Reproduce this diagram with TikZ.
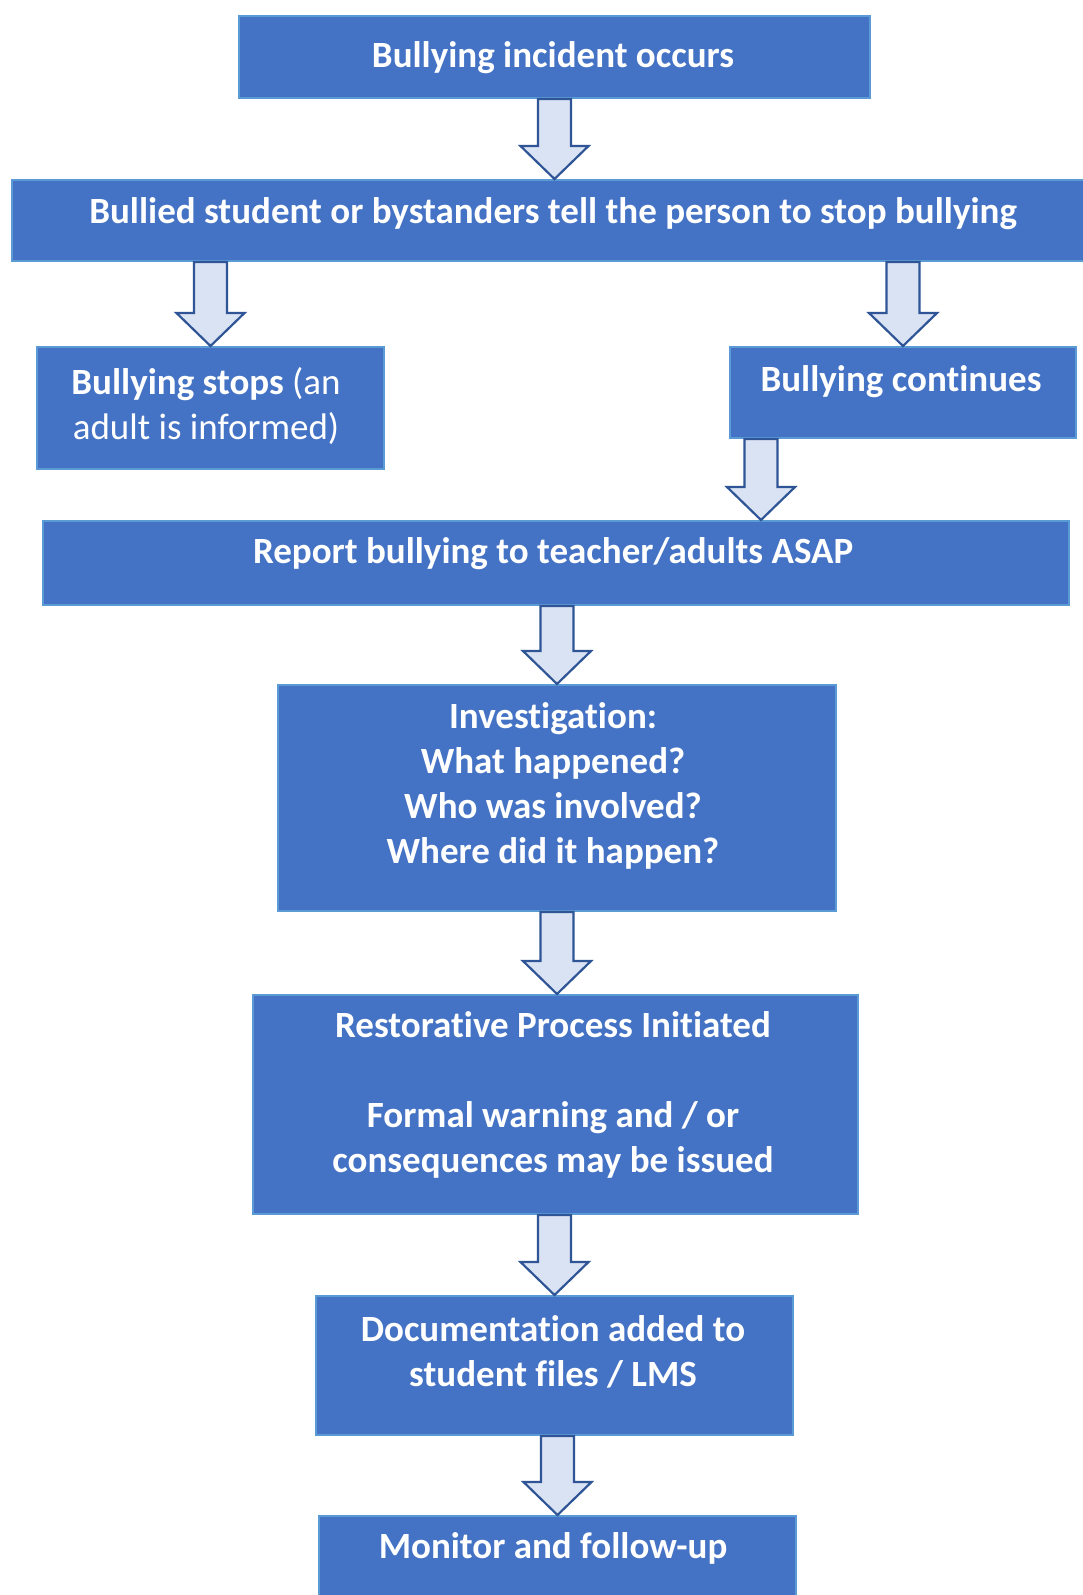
\documentclass[tikz,border=0pt]{standalone}
\usepackage{fontspec}
\setmainfont{Carlito}[Ligatures=NoCommon]
\usetikzlibrary{calc}
\definecolor{boxfill}{HTML}{4472C4}
\definecolor{boxline}{HTML}{5B9BD5}
\definecolor{arrfill}{HTML}{DAE3F3}
\definecolor{arrline}{HTML}{2F5597}
\tikzset{
  flowbox/.style={draw=boxline, line width=2pt, fill=boxfill, inner sep=0pt, anchor=north west},
  boxtext/.style={text=white, font=\fontsize{37}{45}\selectfont\bfseries, align=center, inner sep=0pt},
  blockarrow/.style={draw=arrline, fill=arrfill, line width=2.2pt, line join=miter}
}
\newcommand\barrow[2]{%
  \draw[blockarrow] let \p1=(#1), \p2=(#2) in
    (\x1-16.5pt,\y1) -- (\x1+16.5pt,\y1) -- (\x1+16.5pt,\y2+33pt) -- (\x1+34pt,\y2+33pt)
    -- (\x1,\y2) -- (\x1-34pt,\y2+33pt) -- (\x1-16.5pt,\y2+33pt) -- cycle;}
\begin{document}
\begin{tikzpicture}[x=1pt,y=-1pt]
\useasboundingbox (0,0) rectangle (1083,1595);
\fill[white] (0,0) rectangle (1083,1595);
% boxes
\node[flowbox, minimum width=631pt, minimum height=82pt] (b1) at (238,15) {};
\node[flowbox, minimum width=1073pt, minimum height=81pt] (b2) at (11,179) {};
\node[flowbox, minimum width=347pt, minimum height=122pt] (b3) at (36,346) {};
\node[flowbox, minimum width=346pt, minimum height=91pt] (b4) at (729,346) {};
\node[flowbox, minimum width=1026pt, minimum height=84pt] (b5) at (42,520) {};
\node[flowbox, minimum width=558pt, minimum height=226pt] (b6) at (277,684) {};
\node[flowbox, minimum width=605pt, minimum height=219pt] (b7) at (252,994) {};
\node[flowbox, minimum width=477pt, minimum height=139pt] (b8) at (315,1295) {};
\node[flowbox, minimum width=477pt, minimum height=100pt] (b9) at (318,1515) {};
% texts
\node[boxtext] (t1) at (553,58) {Bullying incident occurs};
\node[boxtext] (t2) at (553,214) {Bullied student or bystanders tell the person to stop bullying};
\node[boxtext] (t3) at (206,406) {Bullying stops {\mdseries(an}\\{\mdseries adult is informed)}};
\node[boxtext] (t4) at (901,382) {Bullying continues};
\node[boxtext] (t5) at (553,554) {Report bullying to teacher/adults ASAP};
\node[boxtext] (t6) at (553,786) {Investigation:\\What happened?\\Who was involved?\\Where did it happen?};
\node[boxtext] (t7) at (553,1095) {Restorative Process Initiated\\[45pt]Formal warning and / or\\consequences may be issued};
\node[boxtext] (t8) at (553,1352) {Documentation added to\\student files / LMS};
\node[boxtext] (t9) at (553,1548) {Monitor and follow-up};
% arrows
\barrow{b1.south}{b2.north -| b1.south}
\barrow{b2.south -| b3.north}{b3.north}
\barrow{b2.south -| b4.north}{b4.north}
\barrow{$(b4.south west)+(32,0)$}{b5.north -| {$(b4.south west)+(32,0)$}}
\barrow{b5.south -| b6.north}{b6.north}
\barrow{b6.south}{b7.north -| b6.south}
\barrow{b7.south -| b8.north}{b8.north}
\barrow{b8.south -| b9.north}{b9.north}
\end{tikzpicture}
\end{document}
